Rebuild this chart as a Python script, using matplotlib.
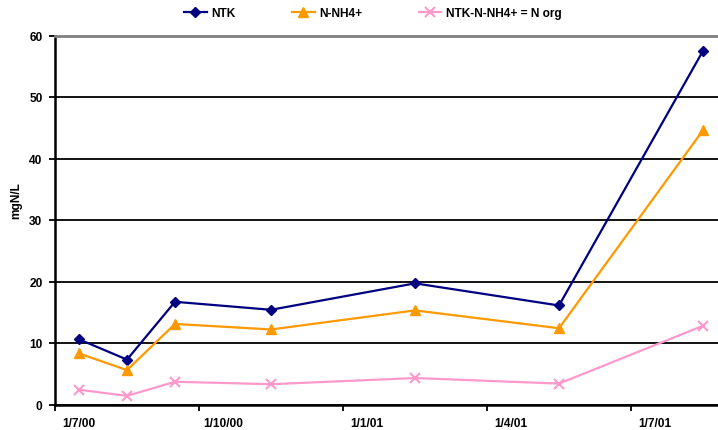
import matplotlib
matplotlib.use("Agg")
import matplotlib.pyplot as plt
import numpy as np

# sampling months (values were taken mid-month)
months = ["2000-07", "2000-08", "2000-09", "2000-11", "2001-02", "2001-05", "2001-08"]
ntk = [10.6, 7.3, 16.7, 15.4, 19.7, 16.1, 57.5]
nh4 = [8.3, 5.6, 13.1, 12.2, 15.3, 12.4, 44.6]
norg = [2.4, 1.4, 3.7, 3.3, 4.3, 3.4, 12.8]

tick_labels = ["1/7/00", "1/10/00", "1/1/01", "1/4/01", "1/7/01"]
y_ticks = [0, 10, 20, 30, 40, 50, 60]


def month_index(m, start="2000-07"):
    y, mo = map(int, m.split("-"))
    y0, m0 = map(int, start.split("-"))
    return (y - y0) * 12 + (mo - m0)


# points sit in the middle of their month slot
x = np.array([month_index(m) for m in months]) + 0.5

plt.rcParams["font.family"] = ["Liberation Sans", "DejaVu Sans"]
plt.rcParams["font.weight"] = "bold"
fs = 8.6

fig = plt.figure(figsize=(7.18, 4.31), dpi=100)
ax = fig.add_axes([55 / 718, 25.5 / 431, 672 / 718, 369 / 431])

ax.plot(x, ntk, color="#000080", marker="D", markersize=5.5, linewidth=1.6, label="NTK")
ax.plot(x, nh4, color="#FF9900", marker="^", markersize=7, linewidth=1.6, label="N-NH4+")
ax.plot(x, norg, color="#FF99CC", marker="x", markersize=7, markeredgewidth=1.5,
        linewidth=1.6, label="NTK-N-NH4+ = N org")

ax.set_xlim(0, 14)
ax.set_ylim(0, 60)

ax.set_yticks(y_ticks)
ax.yaxis.grid(True, color="black", linewidth=1.3)
ax.set_axisbelow(True)
ax.tick_params(axis="y", direction="out", length=4, width=1.3, labelsize=fs, pad=5)

# major ticks at quarter boundaries, labels centred in the month slot
ax.set_xticks([0, 3, 6, 9, 12])
ax.set_xticklabels([])
ax.set_xticks([0.5, 3.5, 6.5, 9.5, 12.5], minor=True)
ax.set_xticklabels(tick_labels, minor=True)
ax.tick_params(axis="x", which="major", direction="out", length=4, width=1.3)
ax.tick_params(axis="x", which="minor", length=0, labelsize=fs, pad=9)

for lab in ax.get_xticklabels(minor=True) + ax.get_yticklabels():
    lab.set_fontweight("bold")

ax.spines["left"].set_color("black")
ax.spines["left"].set_linewidth(1.8)
ax.spines["bottom"].set_color("black")
ax.spines["bottom"].set_linewidth(1.8)
ax.spines["top"].set_color("#808080")
ax.spines["top"].set_linewidth(2)
ax.spines["right"].set_color("#808080")

fig.text(16 / 718, 1 - 201 / 431, "mgN/L", rotation=90, fontsize=fs,
         fontweight="bold", ha="center", va="center")

fig.legend(loc="center", bbox_to_anchor=(373 / 718, 1 - 14 / 431), ncol=3,
           frameon=False, fontsize=fs, handlelength=1.9, handletextpad=0.4,
           columnspacing=4.7, borderpad=0)

fig.savefig("out.png", dpi=100)
